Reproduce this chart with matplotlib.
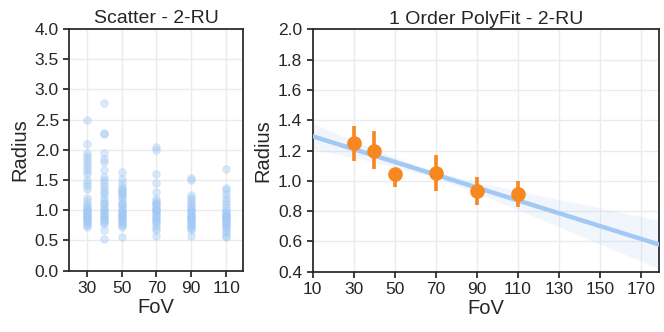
import numpy as np
import matplotlib
matplotlib.use("Agg")
import matplotlib.pyplot as plt

plt.rcParams['font.family'] = ['Liberation Sans', 'DejaVu Sans']

# ---------------- data ----------------
fov_levels = [30, 40, 50, 70, 90, 110]

radius_30 = [2.5, 2.1, 1.95, 1.9, 1.85, 1.8, 1.75, 1.7, 1.65, 1.6, 1.5, 1.45, 1.4, 1.35,
             1.2, 1.15, 1.1, 1.05, 1.0, 0.98, 0.95, 0.92, 0.9, 0.88, 0.85, 0.82, 0.8,
             0.78, 0.75, 0.72, 1.05, 1.0, 0.95, 0.9, 0.85]
radius_40 = [2.78, 2.28, 2.27, 1.94, 1.85, 1.8, 1.66, 1.55, 1.5, 1.45, 1.4, 1.35, 1.3,
             1.27, 1.2, 1.15, 1.1, 1.05, 1.0, 0.95, 0.92, 0.9, 0.88, 0.85, 0.8, 0.78,
             0.67, 0.53, 1.12, 1.02, 0.97, 0.83]
radius_50 = [1.63, 1.52, 1.45, 1.38, 1.35, 1.33, 1.28, 1.22, 1.18, 1.12, 1.08, 1.05, 1.0,
             0.98, 0.95, 0.92, 0.9, 0.88, 0.85, 0.82, 0.8, 0.78, 0.75, 0.72, 0.56, 1.3,
             1.25, 1.1, 0.95, 0.9]
radius_70 = [2.05, 1.99, 1.6, 1.45, 1.3, 1.19, 1.15, 1.12, 1.08, 1.05, 1.02, 1.0, 0.98,
             0.95, 0.9, 0.88, 0.85, 0.82, 0.8, 0.75, 0.7, 0.67, 0.57, 1.1, 1.0, 0.92]
radius_90 = [1.54, 1.5, 1.25, 1.2, 1.17, 1.12, 1.08, 1.05, 1.0, 0.98, 0.95, 0.92, 0.9,
             0.88, 0.85, 0.82, 0.8, 0.78, 0.75, 0.72, 0.7, 0.67, 0.58, 0.9, 0.85, 1.0]
radius_110 = [1.69, 1.37, 1.33, 1.27, 1.2, 1.15, 1.1, 1.05, 1.0, 0.97, 0.95, 0.92, 0.9,
              0.88, 0.85, 0.82, 0.8, 0.78, 0.75, 0.72, 0.7, 0.65, 0.62, 0.58, 0.56, 0.9,
              0.85]
radius_by_fov = [radius_30, radius_40, radius_50, radius_70, radius_90, radius_110]

# per-FoV means and 95% CI (x_estimator)
est_mean = [1.248, 1.200, 1.044, 1.052, 0.931, 0.914]
est_ci_low = [1.134, 1.079, 0.962, 0.936, 0.843, 0.826]
est_ci_high = [1.360, 1.332, 1.085, 1.169, 1.024, 1.002]

# first order fit: slope, intercept
fit_coef = [-0.00423, 1.336]
band_x = [10, 30, 50, 70, 90, 110, 130, 150, 179]
band_halfwidth = [0.085, 0.056, 0.032, 0.020, 0.037, 0.063, 0.090, 0.120, 0.160]

left_xticks = [30, 50, 70, 90, 110]
left_yticks = [0.0, 0.5, 1.0, 1.5, 2.0, 2.5, 3.0, 3.5, 4.0]
right_xticks = [10, 30, 50, 70, 90, 110, 130, 150, 170]
right_yticks = [0.4, 0.6, 0.8, 1.0, 1.2, 1.4, 1.6, 1.8, 2.0]

# ---------------- style ----------------
blue = '#a1c9f4'
orange = '#f7871f'
spine_c = '#262626'

fig = plt.figure(figsize=(6.64, 3.32), dpi=100)
ax1 = fig.add_axes([0.1044, 0.1846, 0.2611, 0.7281])
ax2 = fig.add_axes([0.4710, 0.1816, 0.5215, 0.7301])

def style(ax):
    ax.set_axisbelow(True)
    ax.grid(True, color='#ebebeb', lw=1.0)
    for s in ax.spines.values():
        s.set_color(spine_c)
        s.set_linewidth(1.25)
    ax.tick_params(direction='out', length=4.5, width=1.25, colors=spine_c,
                   labelsize=12.5, labelcolor='#262626', pad=3)

# left scatter
for fv, vals in zip(fov_levels, radius_by_fov):
    ax1.scatter([fv] * len(vals), vals, s=30, color=blue, alpha=0.4,
                edgecolors=blue, linewidths=0.6, zorder=3)
ax1.set_xlim(20, 119.5)
ax1.set_ylim(0.0, 4.0)
ax1.set_xticks(left_xticks)
ax1.set_yticks(left_yticks)
ax1.set_yticklabels([f'{v:.1f}' for v in left_yticks])
ax1.set_title('Scatter - 2-RU', fontsize=14, color='#262626', pad=4)
ax1.set_xlabel('FoV', fontsize=14.5, color='#262626', labelpad=1)
ax1.set_ylabel('Radius', fontsize=14.5, color='#262626', labelpad=4)
style(ax1)

# right regression
bx = np.array(band_x, dtype=float)
by = np.polyval(fit_coef, bx)
hw = np.array(band_halfwidth)
ax2.fill_between(bx, by - hw, by + hw, color=blue, alpha=0.15, lw=0, zorder=2)
ax2.plot(bx, by, color=blue, lw=3.2, zorder=3)
for fv, m, lo, hi in zip(fov_levels, est_mean, est_ci_low, est_ci_high):
    ax2.plot([fv, fv], [lo, hi], color=orange, lw=2.6, zorder=4, solid_capstyle='butt')
ax2.plot(fov_levels, est_mean, 'o', color=orange, ms=9.5, zorder=5, mec=orange)
ax2.set_xlim(10, 178.8)
ax2.set_ylim(0.4, 2.0)
ax2.set_xticks(right_xticks)
ax2.set_yticks(right_yticks)
ax2.set_yticklabels([f'{v:.1f}' for v in right_yticks])
ax2.set_title('1 Order PolyFit - 2-RU', fontsize=14, color='#262626', pad=4)
ax2.set_xlabel('FoV', fontsize=14.5, color='#262626', labelpad=1)
ax2.set_ylabel('Radius', fontsize=14.5, color='#262626', labelpad=4)
style(ax2)

fig.savefig('out.png', dpi=100)
